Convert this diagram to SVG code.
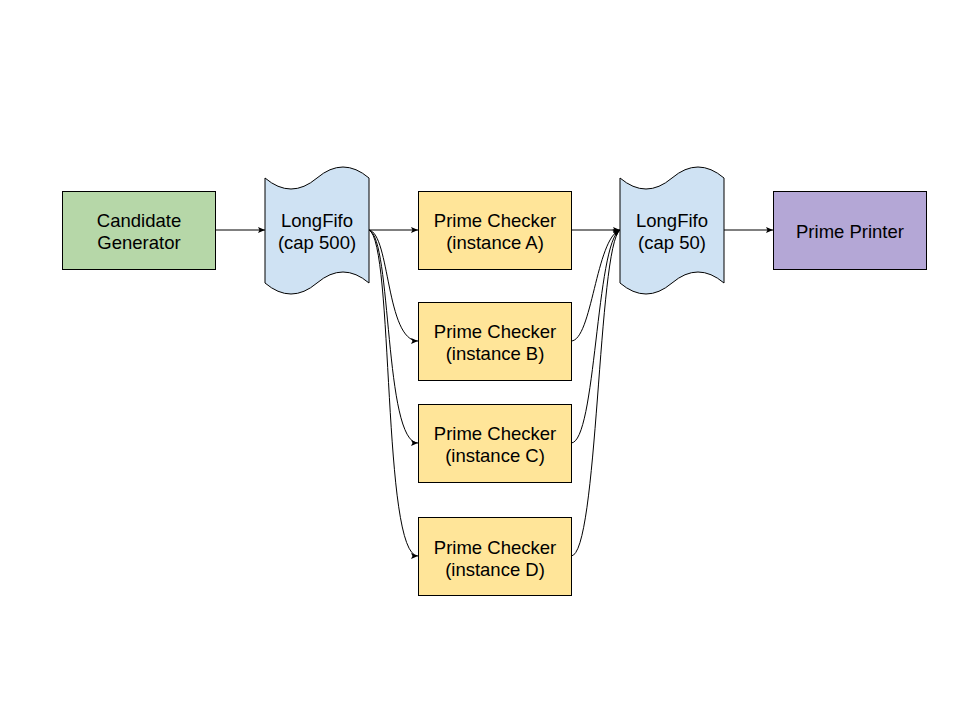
<svg xmlns="http://www.w3.org/2000/svg" width="960" height="720" viewBox="0 0 960 720">
<style>
.box{stroke:#000;stroke-width:1}
.t{font-family:"Liberation Sans",Arial,sans-serif;font-size:18.5px;fill:#000;text-anchor:middle}
.c{fill:none;stroke:#000;stroke-width:1}
</style>
<defs>
<marker id="ah" markerWidth="8" markerHeight="8" refX="7" refY="4" orient="auto" markerUnits="userSpaceOnUse">
<path d="M0,1 L7,4 L0,7 L1.5,4 Z" fill="#000"/>
</marker>
</defs>
<rect width="960" height="720" fill="#fff"/>
<g id="connectors">
<path class="c" d="M215,230 L265,230" marker-end="url(#ah)"/>
<path class="c" d="M369,230 L418,230" marker-end="url(#ah)"/>
<path class="c" d="M369,230 C390,234 386,341 418,341" marker-end="url(#ah)"/>
<path class="c" d="M369,230 C392,238 384,443 418,443" marker-end="url(#ah)"/>
<path class="c" d="M369,230 C394,242 382,556 418,556" marker-end="url(#ah)"/>
<path class="c" d="M571,230 L620,230" marker-end="url(#ah)"/>
<path class="c" d="M571,341 C592,341 596,238 620,230" marker-end="url(#ah)"/>
<path class="c" d="M571,443 C596,443 596,242 620,230" marker-end="url(#ah)"/>
<path class="c" d="M571,556 C598,556 598,246 620,230" marker-end="url(#ah)"/>
<path class="c" d="M724,230 L773,230" marker-end="url(#ah)"/>
</g>
<g id="candidate-generator">
<rect class="box" x="62.5" y="191.5" width="153" height="78" fill="#b6d7a8"/>
<text class="t" x="139" y="227">Candidate</text>
<text class="t" x="139" y="249">Generator</text>
</g>
<g id="longfifo-500">
<path class="box" fill="#cfe2f3" d="M265,178 Q291,200 317,178 Q343,156 369,178 L369,283 Q343,261 317,283 Q291,305 265,283 Z"/>
<text class="t" x="317" y="227">LongFifo</text>
<text class="t" x="317" y="249">(cap 500)</text>
</g>
<g id="checker-a">
<rect class="box" x="418.5" y="191.5" width="153" height="78" fill="#ffe599"/>
<text class="t" x="495" y="227">Prime Checker</text>
<text class="t" x="495" y="249">(instance A)</text>
</g>
<g id="checker-b">
<rect class="box" x="418.5" y="302.5" width="153" height="78" fill="#ffe599"/>
<text class="t" x="495" y="338">Prime Checker</text>
<text class="t" x="495" y="360">(instance B)</text>
</g>
<g id="checker-c">
<rect class="box" x="418.5" y="404.5" width="153" height="78" fill="#ffe599"/>
<text class="t" x="495" y="440">Prime Checker</text>
<text class="t" x="495" y="462">(instance C)</text>
</g>
<g id="checker-d">
<rect class="box" x="418.5" y="517.5" width="153" height="78" fill="#ffe599"/>
<text class="t" x="495" y="554">Prime Checker</text>
<text class="t" x="495" y="576">(instance D)</text>
</g>
<g id="longfifo-50">
<path class="box" fill="#cfe2f3" d="M620,178 Q646,200 672,178 Q698,156 724,178 L724,283 Q698,261 672,283 Q646,305 620,283 Z"/>
<text class="t" x="672" y="227">LongFifo</text>
<text class="t" x="672" y="249">(cap 50)</text>
</g>
<g id="prime-printer">
<rect class="box" x="773.5" y="191.5" width="153" height="78" fill="#b4a7d6"/>
<text class="t" x="850" y="238">Prime Printer</text>
</g>
</svg>
